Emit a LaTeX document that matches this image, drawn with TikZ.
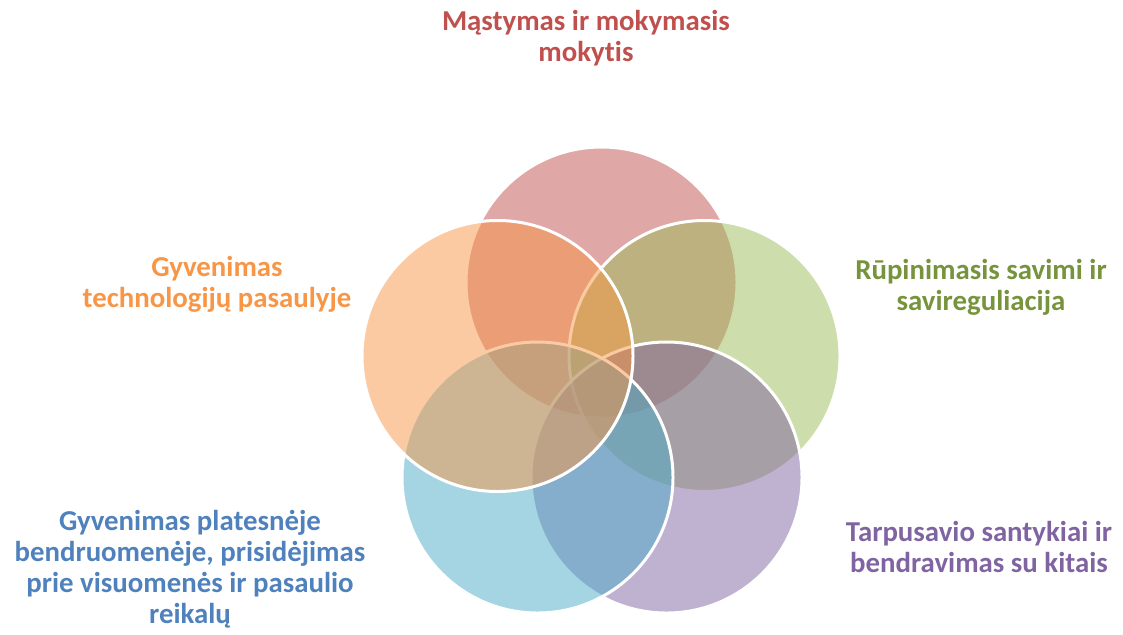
\documentclass[tikz,border=0pt]{standalone}
\usepackage{fontspec}
\setmainfont{Carlito}[Ligatures=NoCommon]

\definecolor{vennred}{HTML}{C0504D}
\definecolor{venngreen}{HTML}{9BBB59}
\definecolor{vennpurple}{HTML}{8064A2}
\definecolor{vennblue}{HTML}{4BACC6}
\definecolor{vennorange}{HTML}{F79646}
\definecolor{greentext}{HTML}{77933C}
\definecolor{bluetext}{HTML}{4F81BD}

\begin{document}
\begin{tikzpicture}[scale=0.2]
\tikzstyle{every node}+=[inner sep=0pt]
\tikzstyle{venn}=[draw=white, line width=1.7pt, fill opacity=0.5]
\tikzstyle{venntext}=[font=\fontsize{16.4}{17.6}\selectfont\bfseries, align=center]
\useasboundingbox (0,0) rectangle (112.3,-63.4);
% circles
\draw [venn, fill=vennred] (60.15,-28.25) circle (13.55);
\draw [venn, fill=venngreen] (70.45,-35.6) circle (13.55);
\draw [venn, fill=vennpurple] (66.65,-47.75) circle (13.55);
\draw [venn, fill=vennblue] (53.75,-47.75) circle (13.55);
\draw [venn, fill=vennorange] (49.75,-35.6) circle (13.55);
% texts
\node [venntext, text=vennred] (mastymas) at (58.6,-3.8) {Mąstymas ir mokymasis\\mokytis};
\node [venntext, text=greentext] (rupinimasis) at (98.1,-28.75) {Rūpinimasis savimi ir\\savireguliacija};
\node [venntext, text=vennpurple] (santykiai) at (97.9,-54.7) {Tarpusavio santykiai ir\\bendravimas su kitais};
\node [venntext, text=bluetext] (bendruomene) at (19.0,-56.9) {Gyvenimas platesnėje\\bendruomenėje, prisidėjimas\\prie visuomenės ir pasaulio\\reikalų};
\node [venntext, text=vennorange] (technologijos) at (21.7,-28.45) {Gyvenimas\\technologijų pasaulyje};
\end{tikzpicture}
\end{document}
